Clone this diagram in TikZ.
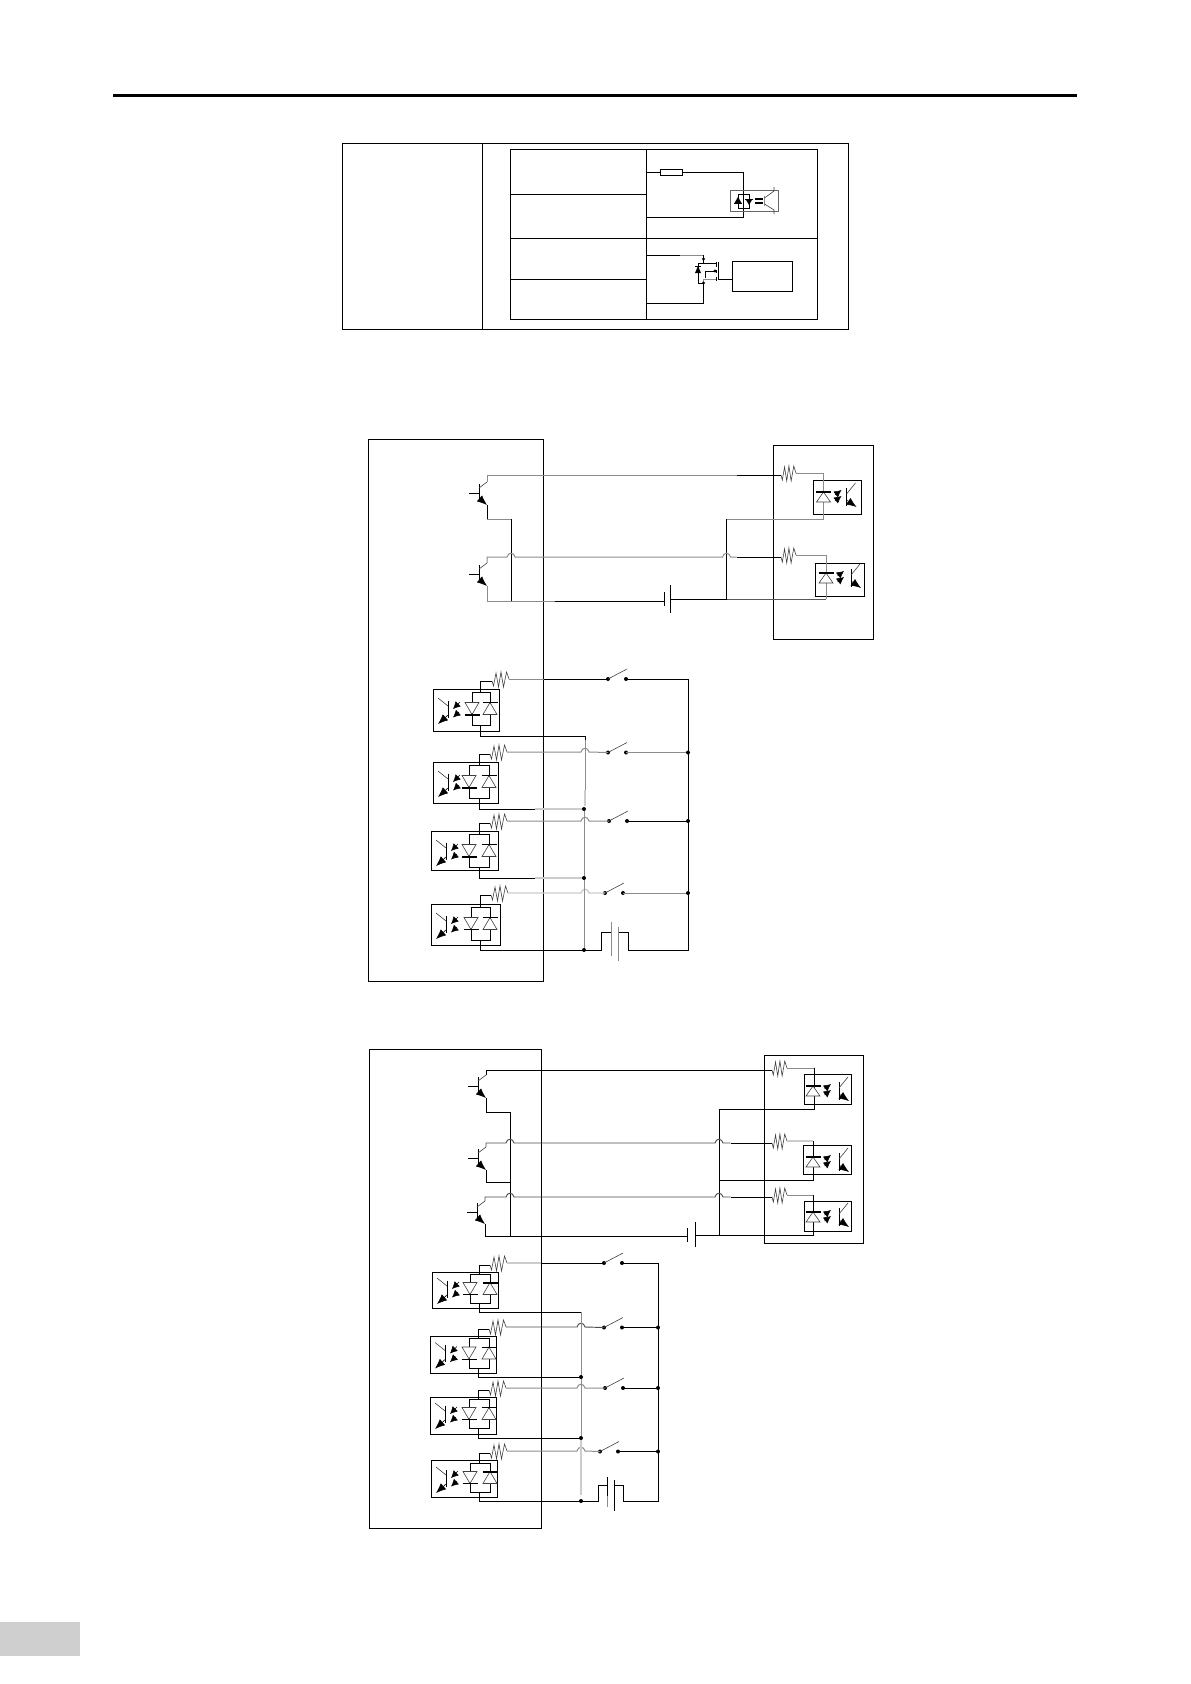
\documentclass[tikz,border=0pt]{standalone}
\usetikzlibrary{arrows.meta}

\definecolor{midgrey}{gray}{0.55}
\definecolor{palegrey}{gray}{0.8}

\tikzset{
    wire/.style={line width=0.75pt, black},
    gwire/.style={line width=0.75pt, midgrey},
    lwire/.style={line width=1pt, palegrey},
    boxline/.style={line width=0.72pt, black},
    fineline/.style={line width=0.45pt, black!75},
    emit/.style={line width=0.45pt, -{Latex[length=7.5pt,width=6pt]}},
    glow/.style={line width=0.4pt, -{Latex[length=5.5pt,width=5.5pt]}},
    pics/zigres/.style={code={
        \coordinate (-a) at (0,2);
        \coordinate (-b) at (17,0);
        \draw[fineline] (0,2) -- (1.5,7) -- (4,-6) -- (6.5,8) -- (9,-7) -- (11.5,8) -- (14.5,-7) -- (17,0);
    }},
    pics/npn/.style={code={
        \coordinate (-c) at (8,-11);
        \coordinate (-e) at (8,12);
        \coordinate (-b) at (-10,0);
        \draw[wire] (-10,0) -- (0,0);
        \draw[wire] (0,-9) -- (0,9);
        \draw[fineline] (0,-5) -- (8,-11);
        \draw[emit] (0,5) -- (8,12);
    }},
    pics/swit/.style={code={
        \coordinate (-a) at (0,0);
        \coordinate (-b) at (18,0);
        \fill (0,0) circle (2);
        \fill (18,0) circle (2);
        \draw[fineline] (0,0) -- (19,-10);
    }},
    pics/outopto/.style={code={
        % diode, two small glows, photo transistor
        \draw[fineline, fill=white] (0,0) -- (-7,10) -- (7,10) -- cycle;
        \draw[line width=1.3pt] (-7.5,0) -- (7.5,0);
        \draw[glow] (11.5,3) -- (18,-2);
        \draw[glow] (11.5,9) -- (18,4);
        \draw[wire] (#1,-4) -- (#1,14);
        \draw[fineline] (#1,2) -- (#1+9,-9);
        \draw[emit] (#1,8) -- (#1+10,15);
    }},
}

\newcommand{\hopx}[2]{-- (#1-4,#2) .. controls (#1-3,#2-5) and (#1+3,#2-5) .. (#1+4,#2)}
\newcommand{\dotat}[1]{\fill #1 circle (2);}

\begin{document}
\begin{tikzpicture}[x=0.75pt,y=-0.75pt]
\useasboundingbox (0,0) rectangle (1191,1684);

% head rule and page tab
\draw[line width=2.25pt] (113,95.5) -- (1077,95.5);
\fill[palegrey!95!white] (0,1622) rectangle (80,1656);

% terminal table
\draw[boxline] (342.5,143) rectangle (848.5,329);
\draw[boxline] (482.5,143) -- (482.5,329);
\draw[boxline] (510,149) rectangle (817,319);
\draw[boxline] (646.5,149) -- (646.5,319);
\draw[boxline] (510,238) -- (817,238);
\draw[boxline] (510,194) -- (646.5,194);
\draw[boxline] (510,279) -- (646.5,279);

% table, opto input
\draw[wire] (646.5,172) -- (660,172);
\draw[wire] (682,172) -- (743.5,172) -- (743.5,217) -- (646.5,217);
\draw[wire] (660,169) rectangle (682,175);
\draw[line width=0.7pt, black!60] (730,190) rectangle (778,211);
\draw[wire] (738,194) rectangle (749,208);
\fill (738,197) -- (734.5,203) -- (741.5,203) -- cycle;
\fill (749,205) -- (745.5,199) -- (752.5,199) -- cycle;
\draw[line width=0.7pt] (734,203) -- (742,203);
\draw[line width=0.7pt] (745,199) -- (753,199);
\draw[line width=0.9pt] (755,199) -- (763,199);
\draw[line width=0.9pt] (755,203) -- (763,203);
\draw[gwire] (764.5,196) -- (764.5,206);
\draw[fineline] (764.5,198) -- (774,191) -- (774,187);
\draw[fineline] (764.5,204) -- (774,210) -- (774,214);

% table, mosfet output
\draw[wire] (646.5,255) -- (680,255);
\draw[gwire] (680,255) -- (703.5,255);
\draw[wire] (703.5,255) -- (703.5,263) -- (716,263);
\draw[wire] (703.5,263) -- (698,263) -- (698,283) -- (703.5,283) -- (703.5,303) -- (646.5,303);
\draw[gwire] (703.5,283) -- (703.5,279) -- (716,279);
\draw[wire] (705.5,278) -- (705.5,271) -- (715,271);
\fill (703.5,259) circle (1.6);
\fill (703.5,283) circle (1.6);
\fill (715,271) circle (1.6);
\fill (698,266) -- (695,273) -- (701,273) -- cycle;
\draw[line width=0.7pt] (695,266) -- (701,266);
\foreach \ya/\yb in {262/267, 270/273, 277/281} {
    \draw[wire] (716,\ya) -- (716,\yb);
}
\draw[wire] (718,262) -- (718,279) -- (732,279);
\draw[boxline] (732,261) rectangle (792,291);

% second circuit
\draw[boxline] (368,439) rectangle (543.5,981);
\draw[boxline] (773,445) rectangle (873,639);
\draw[boxline] (813,480) rectangle (861,514);
\draw[boxline] (815.5,563) rectangle (864,596);

\pic (tA) at (479,493) {npn};
\pic (tB) at (479,574) {npn};
\pic[xscale=0.88] (roA) at (781,473) {zigres};
\pic[xscale=0.88] (roB) at (781,555) {zigres};

\draw[gwire] (tA-c) -- (487,475) -- (736.5,475);
\draw[wire] (736.5,475) -- (781,475);
\draw[gwire] (roA-b) -- (823.5,473) -- (823.5,519) -- (726.5,519);
\draw[wire] (726.5,519) -- (726.5,599);
\draw[wire] (tA-e) -- (487,519);
\draw[gwire] (487,519) -- (511,519);
\draw[wire] (511,519) -- (511,601);

\draw[gwire] (tB-c) -- (487,557) \hopx{511}{557} \hopx{726.5}{557} -- (736.5,557);
\draw[wire] (736.5,557) -- (781,557);
\draw[gwire] (roB-b) -- (826,555) -- (826,599);
\draw[gwire] (tB-e) -- (487,601) -- (554.5,601);
\draw[wire] (554.5,601) -- (664.5,601);
\draw[wire] (670.5,599) -- (726.5,599);
\draw[black!65, line width=0.75pt] (726.5,599) -- (826,599);
\draw[wire] (664.5,592) -- (664.5,606);
\draw[wire] (670.5,585) -- (670.5,613);

\pic at (823.5,492) {outopto=23};
\pic at (826,573) {outopto=25};

% third circuit
\draw[boxline] (369,1049) rectangle (541,1528);
\draw[boxline] (764.5,1055) rectangle (863,1243);
\draw[boxline] (804,1074) rectangle (851.5,1104);
\draw[boxline] (803,1145) rectangle (851.5,1174);
\draw[boxline] (804,1201) rectangle (851.5,1231);

\pic (tC) at (478,1086) {npn};
\pic (tD) at (478,1158) {npn};
\pic (tE) at (477,1212) {npn};
\pic[xscale=0.88] (roC) at (772,1068) {zigres};
\pic[xscale=0.88] (roD) at (772,1141) {zigres};
\pic[xscale=0.88] (roE) at (772,1195) {zigres};

\draw[wire] (tC-c) -- (486,1070) -- (772,1070);
\draw[gwire] (roC-b) -- (814.5,1068);
\draw[wire] (814.5,1068) -- (814.5,1109) -- (719,1109) -- (719,1235);
\draw[wire] (tC-e) -- (486,1112) -- (510,1112) -- (510,1236);

\draw[black!70, line width=0.7pt] (tD-c) -- (486,1143) \hopx{510}{1143} \hopx{719}{1143} -- (730.5,1143);
\draw[wire] (730.5,1143) -- (772,1143);
\draw[lwire] (roD-b) -- (813,1141);
\draw[wire] (813,1141) -- (813,1180) -- (719,1180);
\draw[wire] (tD-e) -- (486,1182) -- (510,1182);

\draw[black!70, line width=0.7pt] (tE-c) -- (485,1197) \hopx{510}{1197} \hopx{719}{1197} -- (730.5,1197);
\draw[wire] (730.5,1197) -- (772,1197);
\draw[gwire] (roE-b) -- (813,1195);
\draw[wire] (813,1195) -- (813,1235) -- (695.5,1235);
\draw[wire] (tE-e) -- (485,1236) -- (687,1236);
\draw[wire] (687,1228) -- (687,1242);
\draw[wire] (695.5,1222) -- (695.5,1247);

\pic at (813,1086) {outopto=26};
\pic at (813,1157) {outopto=26};
\pic at (813,1212) {outopto=26};

% input optos, both circuits
\foreach \n/\wx/\bl/\br/\bt/\bb/\ll/\lr/\lt/\lb/\lw/\rw in {
    A/480/433/499/689/731/472/490/692/725/1.5/0.7,
    B/479/433/498/762/803/469/489/765/798/1.5/0.7,
    C/479/431/498/831/870/469/489/834/867/1.5/0.7,
    D/480/431/500/904/945/471/490/907/940/0.7/0.7,
    E/479/432/498/1272/1308/470/490/1274/1303/0.7/1.5,
    F/478/430/496/1336/1373/469/489/1338/1368/0.7/0.7,
    G/478/430/496/1397/1434/469/489/1399/1428/0.7/0.7,
    H/479/431/497/1460/1497/470/490/1463/1492/0.7/1.5} {
    \pgfmathsetmacro\dy{(\lt+\lb)/2}
    \coordinate (top\n) at (\wx,\lt);
    \coordinate (bot\n) at (\wx,\lb);
    \draw[boxline] (\bl,\bt) rectangle (\br,\bb);
    \draw[wire] (\ll,\lt) rectangle (\lr,\lb);
    \draw[fineline, fill=white] (\ll-7,\dy-6) -- (\ll+7,\dy-6) -- (\ll,\dy+6) -- cycle;
    \draw[line width=\lw pt] (\ll-7.5,\dy+6) -- (\ll+7.5,\dy+6);
    \draw[fineline, fill=white] (\lr,\dy-6) -- (\lr-7,\dy+6) -- (\lr+7,\dy+6) -- cycle;
    \draw[line width=\rw pt] (\lr-7.5,\dy-6) -- (\lr+7.5,\dy-6);
    \draw[glow] (\bl+27,\dy-6.5) -- (\bl+20,\dy+0.5);
    \draw[glow] (\bl+26,\dy+3.5) -- (\bl+20,\dy+9);
    \draw[wire] (\bl+15,\dy-8) -- (\bl+15,\dy+9);
    \draw[fineline] (\bl+15,\dy-2.5) -- (\bl+5,\dy-10.5);
    \draw[emit] (\bl+15,\dy+6.5) -- (\bl+5,\dy+15.5);
}

% input rows of the second circuit
\pic (rA) at (492,679) {zigres};
\pic (rB) at (490,752) {zigres};
\pic (rC) at (490,821) {zigres};
\pic (rD) at (491,893) {zigres};
\pic (sA) at (608,679) {swit};
\pic (sB) at (608,752.5) {swit};
\pic (sC) at (609,821) {swit};
\pic (sD) at (605,893) {swit};

\draw[wire] (topA) |- (rA-a);
\draw[wire] (topB) |- (rB-a);
\draw[wire] (topC) |- (rC-a);
\draw[wire] (topD) |- (rD-a);

\draw[gwire] (rA-b) -- (543.5,679);
\draw[wire] (543.5,679) -- (sA-a);
\draw[gwire] (rB-b) \hopx{585}{752} -- (sB-a);
\draw[gwire] (rC-b) \hopx{585}{821} -- (sC-a);
\draw[lwire] (rD-b) \hopx{585}{893} -- (sD-a);

\draw[wire] (botA) |- (585,736) -- (585,740);
\draw[gwire] (585,740) -- (585,790);
\draw[lwire] (585,790) -- (585,806);
\draw[wire] (botB) |- (535,809);
\draw[lwire] (535,809) -- (584,809);
\draw[wire] (botC) |- (535,878);
\draw[lwire] (535,878) -- (584,878);
\draw[gwire] (584,809) -- (584,950);
\draw[wire] (botD) |- (601,950) -- (601,932) -- (611,932);
\draw[wire] (618,932) -- (628,932) -- (628,950) -- (688,950) -- (688,679) -- (sA-b);
\draw[gwire] (sB-b) -- (688,752.5);
\draw[wire] (sC-b) -- (688,821);
\draw[gwire] (sD-b) -- (688,893);
\draw[gwire] (611,922) -- (611,956);
\draw[gwire] (618,927) -- (618,961);

\foreach \x/\y in {584/809, 584/878, 584/950, 688/752.5, 688/821, 688/893} {
    \dotat{(\x,\y)}
}

% input rows of the third circuit
\pic (rE) at (490,1263) {zigres};
\pic (rF) at (489,1327) {zigres};
\pic (rG) at (489,1388) {zigres};
\pic (rH) at (490,1451) {zigres};
\pic (sE) at (604,1263) {swit};
\pic (sF) at (604,1327.5) {swit};
\pic (sG) at (605,1388) {swit};
\pic (sH) at (600,1451.5) {swit};

\draw[wire] (topE) |- (rE-a);
\draw[wire] (topF) |- (rF-a);
\draw[wire] (topG) |- (rG-a);
\draw[wire] (topH) |- (rH-a);

\draw[lwire] (rE-b) -- (541,1263);
\draw[wire] (541,1263) -- (sE-a);
\draw[black!70, line width=0.7pt] (rF-b) \hopx{581}{1327} -- (sF-a);
\draw[gwire] (rG-b) \hopx{581}{1388} -- (sG-a);
\draw[gwire] (rH-b) \hopx{581}{1451} -- (sH-a);

\draw[wire] (botE) |- (581,1312);
\draw[wire] (botF) |- (581,1377);
\draw[wire] (botG) |- (581,1438);
\draw[gwire] (581,1312) -- (581,1438);
\draw[lwire] (581,1438) -- (581,1495);
\draw[wire] (botH) |- (598,1501) -- (598,1485) -- (607,1485);
\draw[wire] (614,1485) -- (623,1485) -- (623,1501) -- (658,1501) -- (658,1263) -- (sE-b);
\draw[wire] (sF-b) -- (658,1327.5);
\draw[wire] (sG-b) -- (658,1388);
\draw[wire] (sH-b) -- (658,1451.5);
\draw[wire] (607,1477) -- (607,1496);
\draw[gwire] (607,1496) -- (607,1507);
\draw[wire] (614,1480) -- (614,1511);

\foreach \x/\y in {581/1377, 581/1438, 581/1501, 658/1327.5, 658/1388, 658/1451.5} {
    \dotat{(\x,\y)}
}
\end{tikzpicture}
\end{document}
